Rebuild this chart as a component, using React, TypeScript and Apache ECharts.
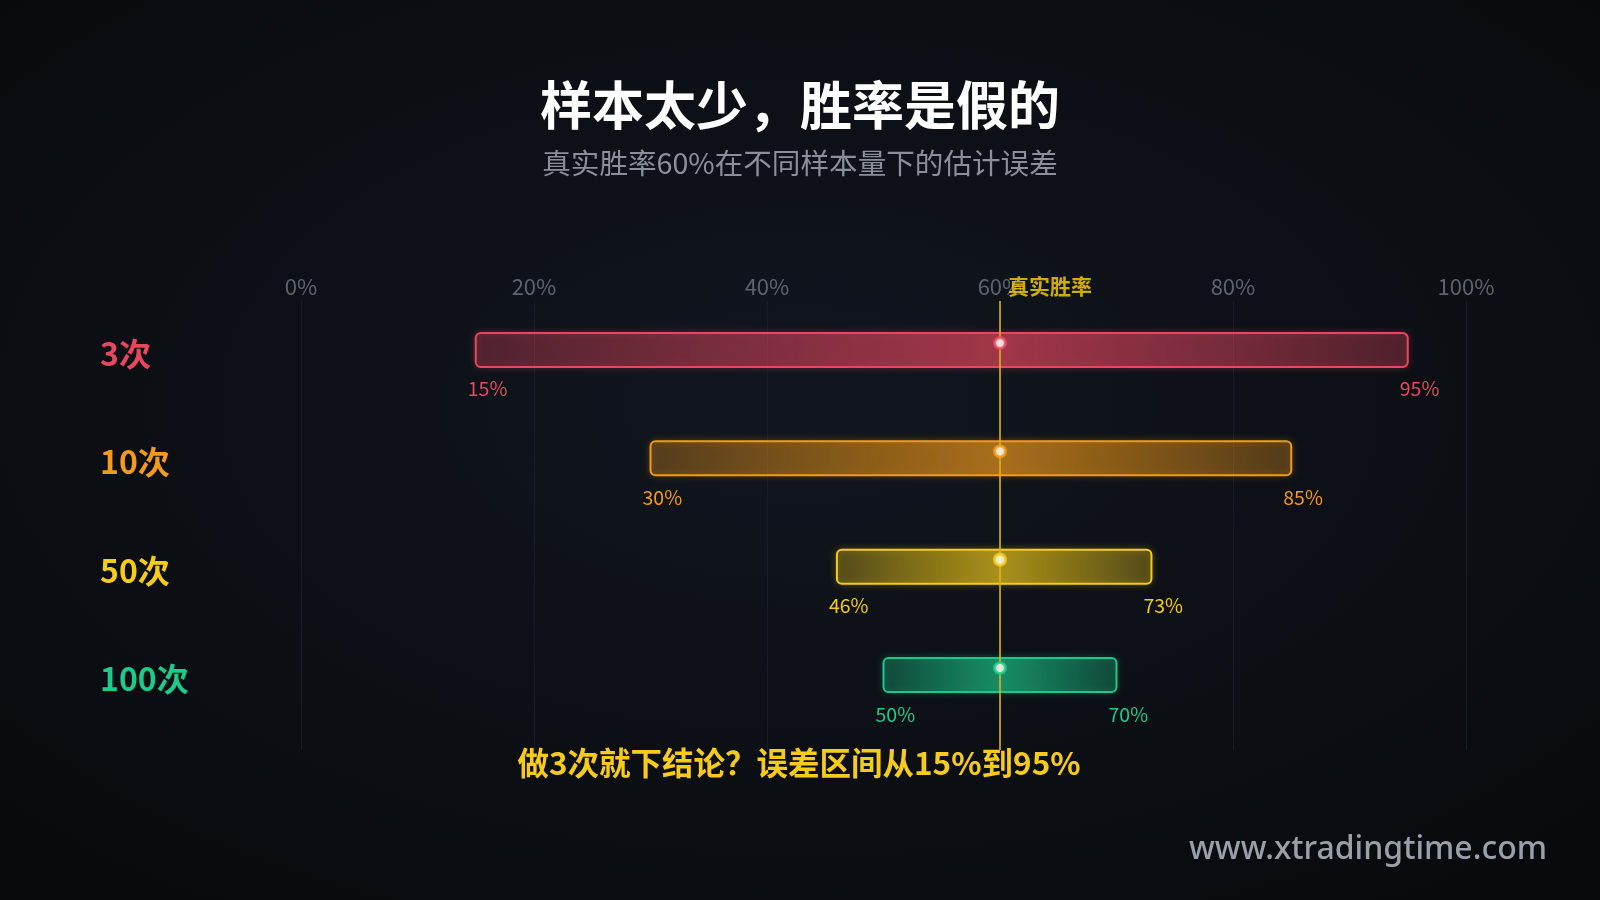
import React, { useEffect, useRef } from "react";
import * as echarts from "echarts";

const categories = ["3次", "10次", "50次", "100次"];
const lowValues = [15, 30, 46, 50];
const highValues = [95, 85, 73, 70];
const trueRate = 60;
const seriesColors = ["#e8475f", "#f39a1c", "#f5cd18", "#1fc98a"];
const xMin = 0;
const xMax = 100;
const xInterval = 20;
const yMin = -0.452;
const yMax = 3.692;

const FONT = '"Noto Sans CJK SC", "Noto Sans", sans-serif';

function hexA(hex: string, a: number) {
  const r = parseInt(hex.slice(1, 3), 16);
  const g = parseInt(hex.slice(3, 5), 16);
  const b = parseInt(hex.slice(5, 7), 16);
  return `rgba(${r},${g},${b},${a})`;
}

export default function App() {
  const ref = useRef<HTMLDivElement>(null);
  useEffect(() => {
    const chart = echarts.init(ref.current!, undefined, { renderer: "svg" });
    const rangeData = categories.map((_, i) => [i, lowValues[i], highValues[i]]);
    const option: any = {
      animation: false,
      backgroundColor: new echarts.graphic.RadialGradient(0.5, 0.45, 0.75, [
        { offset: 0, color: "#11161e" },
        { offset: 1, color: "#07090c" },
      ]),
      grid: { left: 301, right: 134, top: 301, bottom: 150 },
      xAxis: {
        type: "value",
        position: "top",
        min: xMin,
        max: xMax,
        interval: xInterval,
        axisLine: { show: false },
        axisTick: { show: false },
        axisLabel: {
          formatter: "{value}%",
          color: "#5e646e",
          fontSize: 22,
          fontFamily: FONT,
          margin: 5,
        },
        splitLine: { show: true, lineStyle: { color: "#191e26", width: 1 } },
      },
      yAxis: {
        type: "value",
        inverse: true,
        min: yMin,
        max: yMax,
        show: false,
      },
      graphic: [
        {
          type: "text",
          x: 800,
          y: 102,
          style: {
            text: "样本太少，胜率是假的",
            fill: "#ffffff",
            font: `bold 52px ${FONT}`,
            textAlign: "center",
            textVerticalAlign: "middle",
          },
        },
        {
          type: "text",
          x: 800,
          y: 161,
          style: {
            text: "真实胜率60%在不同样本量下的估计误差",
            fill: "#8a8f98",
            font: `28.6px ${FONT}`,
            textAlign: "center",
            textVerticalAlign: "middle",
          },
        },
        {
          type: "text",
          x: 799,
          y: 761,
          style: {
            text: "做3次就下结论？误差区间从15%到95%",
            fill: "#f7cb1c",
            font: `bold 31.5px ${FONT}`,
            textAlign: "center",
            textVerticalAlign: "middle",
          },
        },
        {
          type: "text",
          x: 1547,
          y: 846,
          style: {
            text: "www.xtradingtime.com",
            fill: "#9aa0a9",
            font: `500 32px "Noto Sans", sans-serif`,
            textAlign: "right",
            textVerticalAlign: "middle",
          },
        },
      ],
      series: [
        {
          type: "custom",
          z: 2,
          data: rangeData,
          renderItem: (params: any, api: any) => {
            const idx = api.value(0);
            const lo = api.value(1);
            const hi = api.value(2);
            const p0 = api.coord([lo, idx]);
            const p1 = api.coord([hi, idx]);
            const c = seriesColors[idx];
            const h = 34;
            const mid = Math.min(0.95, Math.max(0.05, (trueRate - lo) / (hi - lo)));
            return {
              type: "group",
              children: [
                {
                  type: "rect",
                  shape: { x: p0[0], y: p0[1] - h / 2, width: p1[0] - p0[0], height: h, r: 5 },
                  style: {
                    fill: new echarts.graphic.LinearGradient(0, 0, 1, 0, [
                      { offset: 0, color: hexA(c, 0.22) },
                      { offset: mid, color: hexA(c, 0.56) },
                      { offset: 1, color: hexA(c, 0.22) },
                    ]),
                    stroke: c,
                    lineWidth: 2,
                    shadowBlur: 6,
                    shadowColor: hexA(c, 0.45),
                  },
                },
                {
                  type: "text",
                  x: p0[0] - 8,
                  y: p0[1] + 38,
                  style: {
                    text: `${lo}%`,
                    fill: c,
                    font: `19.5px ${FONT}`,
                    textAlign: "left",
                    textVerticalAlign: "middle",
                  },
                },
                {
                  type: "text",
                  x: p1[0] - 8,
                  y: p1[1] + 38,
                  style: {
                    text: `${hi}%`,
                    fill: c,
                    font: `19.5px ${FONT}`,
                    textAlign: "left",
                    textVerticalAlign: "middle",
                  },
                },
                {
                  type: "text",
                  x: 100,
                  y: p0[1] + 2,
                  style: {
                    text: categories[idx],
                    fill: c,
                    font: `bold 32px ${FONT}`,
                    textAlign: "left",
                    textVerticalAlign: "middle",
                  },
                },
              ],
            };
          },
        },
        {
          type: "line",
          z: 3,
          data: [
            [trueRate, yMin],
            [trueRate, yMax],
          ],
          symbol: "none",
          lineStyle: { color: "#dcb215", width: 1.6 },
          silent: true,
        },
        {
          type: "scatter",
          z: 4,
          data: categories.map((_, i) => ({
            value: [trueRate, i],
            itemStyle: { color: "#ffffff", borderColor: seriesColors[i], borderWidth: 3 },
          })),
          symbolSize: 11,
          symbolOffset: [0, -7],
        },
        {
          type: "scatter",
          z: 5,
          data: [[trueRate, yMin]],
          symbolSize: 0,
          label: {
            show: true,
            formatter: "真实胜率",
            position: [8, -16],
            verticalAlign: "middle",
            align: "left",
            color: "#ffd400",
            fontSize: 21,
            fontWeight: "bold",
            fontFamily: FONT,
          },
        },
      ],
    };
    chart.setOption(option);
    return () => chart.dispose();
  }, []);
  return (
    <div
      ref={ref}
      style={{ position: "fixed", left: 0, top: 0, width: 1600, height: 900 }}
    />
  );
}
